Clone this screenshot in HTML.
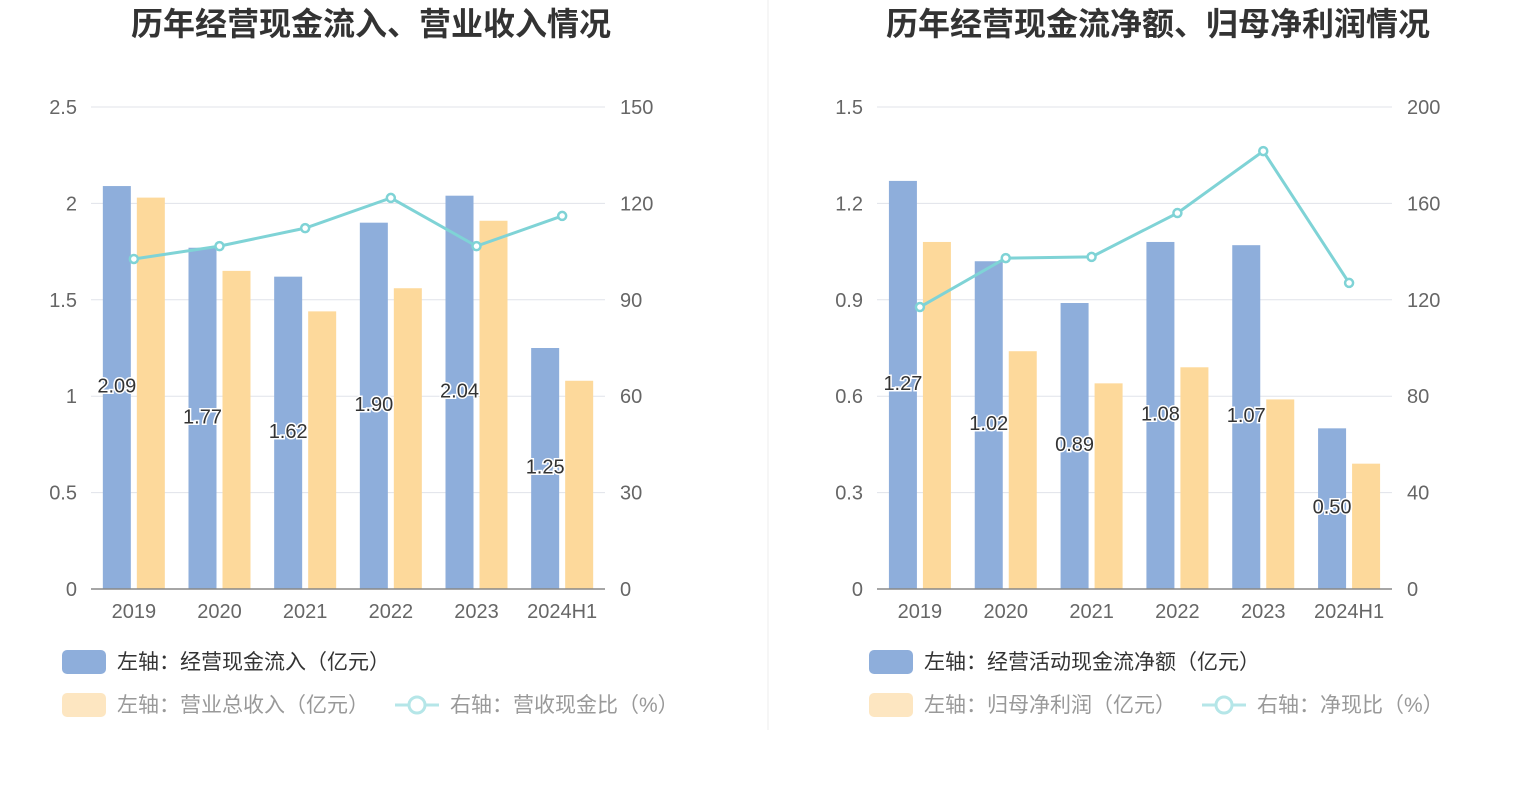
<!DOCTYPE html>
<html><head><meta charset="utf-8">
<style>
body{margin:0;background:#fff;width:1531px;height:786px;overflow:hidden;font-family:"Liberation Sans","Noto Sans CJK SC",sans-serif;}
svg text{font-family:"Liberation Sans","Noto Sans CJK SC",sans-serif;}
</style></head>
<body>
<svg id="svg" width="1531" height="786">
<line x1="768" y1="0" x2="768" y2="730" stroke="#eee" stroke-width="1"/>
</svg>
<script>
const categories=["2019","2020","2021","2022","2023","2024H1"];
const leftInflow=[2.09,1.77,1.62,1.90,2.04,1.25];
const leftRevenue=[2.03,1.65,1.44,1.56,1.91,1.08];
const leftRatio=[102.7,106.7,112.3,121.7,106.7,116.1];
const leftTicksL=["0","0.5","1","1.5","2","2.5"];
const leftTicksR=["0","30","60","90","120","150"];
const rightNet=[1.27,1.02,0.89,1.08,1.07,0.50];
const rightProfit=[1.08,0.74,0.64,0.69,0.59,0.39];
const rightRatio=[117,137.3,137.8,156,181.7,127];
const rightTicksL=["0","0.3","0.6","0.9","1.2","1.5"];
const rightTicksR=["0","40","80","120","160","200"];

const svg=document.getElementById('svg');
const NS='http://www.w3.org/2000/svg';
function mk(tag,attrs,parent){const e=document.createElementNS(NS,tag);for(const k in attrs)e.setAttribute(k,attrs[k]);(parent||svg).appendChild(e);return e;}

function panel(o){
  const g=mk('g',{});
  
  
  const top=107,bot=589,x0=o.x0,x1=o.x1,n=categories.length,bw=(x1-x0)/n;
  const yL=v=>bot-(v/o.maxL)*(bot-top);
  const yR=v=>bot-(v/o.maxR)*(bot-top);
  const xc=i=>x0+bw*(i+0.5);
  const t=mk('text',{x:o.tx,y:35,'text-anchor':'middle','font-size':32,'font-weight':'bold',fill:'#333'},g);
  t.textContent=o.title;
  
  
  o.ticksL.forEach((s,i)=>{
    const y=bot-i*(bot-top)/(o.ticksL.length-1);
    if(i>0){const l=mk('line',{x1:x0,x2:x1,y1:y,y2:y,stroke:'#e0e3ea','stroke-width':1},g);
      }
    const a=mk('text',{x:x0-14,y:y+7,'text-anchor':'end','font-size':20,fill:'#666'},g);a.textContent=s;
    
    const b=mk('text',{x:x1+15,y:y+7,'text-anchor':'start','font-size':20,fill:'#666'},g);b.textContent=o.ticksR[i];
    
  });
  categories.forEach((c,i)=>{
    const r1=mk('rect',{x:xc(i)-31,y:yL(o.a[i]),width:28,height:bot-yL(o.a[i]),fill:'#8eaedb'},g);
    
    const r2=mk('rect',{x:xc(i)+3,y:yL(o.b[i]),width:28,height:bot-yL(o.b[i]),fill:'#fdd99b'},g);
    
    const tx=mk('text',{x:xc(i)-17,y:(yL(o.a[i])+bot)/2+5,'text-anchor':'middle','font-size':20,fill:'#333',stroke:'#fff','stroke-width':3,'paint-order':'stroke'},g);
    tx.textContent=o.a[i].toFixed(2);
    
    const xl=mk('text',{x:xc(i),y:618,'text-anchor':'middle','font-size':20,fill:'#666'},g);xl.textContent=c;
    
  });
  const ax=mk('line',{x1:x0,x2:x1,y1:bot,y2:bot,stroke:'#888','stroke-width':1.5},g);
  
  const pts=o.r.map((v,i)=>xc(i)+','+yR(v)).join(' ');
  const pl=mk('polyline',{points:pts,fill:'none',stroke:'#7fd3d6','stroke-width':3},g);
  
  o.r.forEach((v,i)=>{const c=mk('circle',{cx:xc(i),cy:yR(v),r:4,fill:'#fff',stroke:'#7fd3d6','stroke-width':2.5},g);
    });
  const lx=o.lx;
  const s1=mk('rect',{x:lx,y:650,width:44,height:24,rx:5,fill:'#8eaedb'},g);
  
  const l1=mk('text',{x:lx+55,y:669,'font-size':21,fill:'#333'},g);l1.textContent=o.la;
  
  const s2=mk('rect',{x:lx,y:693,width:44,height:24,rx:5,fill:'#fde6c1'},g);
  
  const l2=mk('text',{x:lx+55,y:712,'font-size':21,fill:'#999'},g);l2.textContent=o.lb;
  
  const lnx=o.lcx;
  const ll=mk('line',{x1:lnx,x2:lnx+44,y1:705,y2:705,stroke:'#b5e6e8','stroke-width':3},g);
  
  const lc=mk('circle',{cx:lnx+22,cy:705,r:8,fill:'#fff',stroke:'#b5e6e8','stroke-width':3},g);
  
  const l3=mk('text',{x:lnx+55,y:712,'font-size':21,fill:'#999'},g);l3.textContent=o.lc;
  
}
panel({id:'left-panel',title:'历年经营现金流入、营业收入情况',tx:371,x0:91,x1:605,maxL:2.5,maxR:150,
  ticksL:leftTicksL,ticksR:leftTicksR,a:leftInflow,b:leftRevenue,r:leftRatio,aName:'inflow',bName:'revenue',
  lx:62,lcx:395,la:'左轴：经营现金流入（亿元）',lb:'左轴：营业总收入（亿元）',lc:'右轴：营收现金比（%）'});
panel({id:'right-panel',title:'历年经营现金流净额、归母净利润情况',tx:1158,x0:877,x1:1392,maxL:1.5,maxR:200,
  ticksL:rightTicksL,ticksR:rightTicksR,a:rightNet,b:rightProfit,r:rightRatio,aName:'net-cash',bName:'net-profit',
  lx:869,lcx:1202,la:'左轴：经营活动现金流净额（亿元）',lb:'左轴：归母净利润（亿元）',lc:'右轴：净现比（%）'});
</script>
</body></html>
